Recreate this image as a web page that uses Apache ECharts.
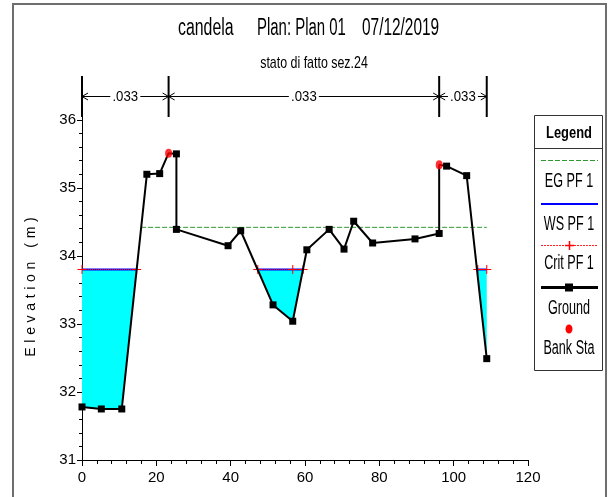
<!DOCTYPE html>
<html>
<head>
<meta charset="utf-8">
<script src="https://cdn.jsdelivr.net/npm/echarts@6/dist/echarts.min.js"></script>
<style>
  html, body { margin: 0; padding: 0; background: #fff; }
  #chart { width: 609px; height: 497px; }
</style>
</head>
<body>
<div id="chart"></div>
<script>
// ---- Cross section data (station in m, elevation in m) ----
const groundSta  = [0, 5.2, 10.7, 17.45, 20.9, 23.3, 25.4, 25.4, 39.3, 42.7, 51.4, 56.7, 60.5, 66.5, 70.5, 73.1, 78.2, 89.6, 96.1, 96.1, 98.1, 103.5, 108.9];
const groundElev = [31.78, 31.75, 31.75, 35.20, 35.21, 35.51, 35.50, 34.39, 34.15, 34.37, 33.28, 33.04, 34.09, 34.39, 34.10, 34.51, 34.19, 34.25, 34.33, 35.34, 35.32, 35.18, 32.49];

// Bank stations
const bankSta  = [23.3, 96.1];
const bankElev = [35.51, 35.34];

// Water levels for profile PF 1
const egElev = 34.42;
const egSta  = [15.9, 108.9];
const wsElev = 33.80;
const critElev = 33.80;
const critStaGroups = [[0, 14.7], [47.3, 56.7, 59.5], [106.5, 108.9]];

// Manning's n reaches
const nSta = [0, 23.3, 96.1, 108.9];
const nVal = ['.033', '.033', '.033'];

// Axis extents and tick labels
const xMin = 0, xMax = 120, xStep = 20;
const yMin = 31, yMax = 36.63;
const yMajorTicks = [31, 32, 33, 34, 35, 36];
const yMinorTicks = [];
for (let v = 31.2; v < 36; v += 0.2) {
  if (Math.abs(v - Math.round(v)) > 1e-6) yMinorTicks.push(+v.toFixed(1));
}

// Titles and legend entries
const titleParts = ['candela', 'Plan: Plan 01', '07/12/2019'];
const subTitle = 'stato di fatto sez.24';
const yName = 'Elevation (m)';
const legendTitle = 'Legend';
const legendNames = ['EG PF 1', 'WS PF 1', 'Crit PF 1', 'Ground', 'Bank Sta'];

const FONT = '"Liberation Sans", Arial, sans-serif';

// Letter-spaced axis name
const spacedName = yName.split('').map(c => c === ' ' ? '\u2004' : c).join('\u2004');

// Wetted pockets: parts of the ground below the water surface
function wetPockets(sta, elev, ws) {
  const pockets = [];
  let cur = null;
  for (let i = 0; i < sta.length; i++) {
    const below = elev[i] < ws;
    if (i === 0) {
      if (below) cur = [[sta[0], ws], [sta[0], elev[0]]];
      continue;
    }
    const wasBelow = elev[i - 1] < ws;
    if (below !== wasBelow) {
      const t = (ws - elev[i - 1]) / (elev[i] - elev[i - 1]);
      const xc = sta[i - 1] + t * (sta[i] - sta[i - 1]);
      if (below) {
        cur = [[xc, ws]];
      } else {
        cur.push([xc, ws]);
        pockets.push(cur);
        cur = null;
      }
    }
    if (below) cur.push([sta[i], elev[i]]);
  }
  if (cur) {
    cur.push([sta[sta.length - 1], ws]);
    pockets.push(cur);
  }
  return pockets;
}

const pockets = wetPockets(groundSta, groundElev, wsElev);

const groundData = groundSta.map((s, i) => [s, groundElev[i]]);
const isBankPoint = (v) => bankSta.some((b, k) => b === v[0] && bankElev[k] === v[1]);

const wsData = [];
pockets.forEach(p => {
  wsData.push([p[0][0], wsElev], [p[p.length - 1][0], wsElev], [p[p.length - 1][0], '-']);
});
const critData = [];
critStaGroups.forEach(g => {
  g.forEach(s => critData.push([s, critElev]));
  critData.push([g[g.length - 1], '-']);
});

const nSegments = [];
for (let i = 0; i < nSta.length - 1; i++) nSegments.push([nSta[i], nSta[i + 1]]);

const plusPath = 'path://M4,0H5V4H9V5H5V9H4V5H0V4H4Z';

const chart = echarts.init(document.getElementById('chart'));

const LEG_X0 = 541, LEG_X1 = 598, LEG_CX = 569;

function legText(txt, y) {
  return { type: 'text', x: LEG_CX, y: y, scaleX: 0.63, z: 11,
    style: { text: txt, font: '20px ' + FONT, fill: '#000', align: 'center', verticalAlign: 'middle' } };
}

chart.setOption({
  animation: false,
  backgroundColor: '#fff',
  grid: { left: 82, right: 81, top: 77, bottom: 37 },
  xAxis: {
    type: 'value', min: xMin, max: xMax, interval: xStep,
    axisLine: { lineStyle: { color: '#000', width: 1 } },
    axisTick: { length: 6, lineStyle: { color: '#000' } },
    minorTick: { show: true, splitNumber: 5, length: 4, lineStyle: { color: '#000' } },
    splitLine: { show: false },
    axisLabel: { color: '#000', fontFamily: FONT, fontSize: 15, margin: 10 }
  },
  yAxis: [
    {
      type: 'value', min: yMin, max: yMax,
      axisLine: { show: true, lineStyle: { color: '#000', width: 1 } },
      axisTick: { show: true, length: 5, customValues: yMajorTicks, lineStyle: { color: '#000' } },
      axisLabel: { color: '#000', fontFamily: FONT, fontSize: 15, margin: 6, customValues: yMajorTicks },
      splitLine: { show: false }
    },
    {
      type: 'value', min: yMin, max: yMax, position: 'left',
      axisLine: { show: false },
      axisTick: { show: true, length: 3, customValues: yMinorTicks, lineStyle: { color: '#000' } },
      axisLabel: { show: false },
      splitLine: { show: false }
    }
  ],
  series: [
    {
      // water below the surface
      type: 'custom', name: 'water', z: 1,
      data: pockets.map(p => [p[0][0], p[0][1]]),
      renderItem: function (params, api) {
        const pts = pockets[params.dataIndex].map(p => api.coord(p));
        return { type: 'polygon', shape: { points: pts }, style: { fill: '#00ffff', stroke: null } };
      },
      silent: true
    },
    {
      type: 'line', name: 'EG PF 1', z: 2,
      data: egSta.map(s => [s, egElev]),
      symbol: 'none',
      lineStyle: { color: '#2f9a2f', width: 1, type: [5, 2] },
      silent: true
    },
    {
      type: 'line', name: 'WS PF 1', z: 3,
      data: wsData, connectNulls: false,
      symbol: 'none',
      lineStyle: { color: '#0000ff', width: 2 },
      silent: true
    },
    {
      type: 'line', name: 'Crit PF 1', z: 4,
      data: critData, connectNulls: false,
      symbol: plusPath, symbolSize: 9, showAllSymbol: true,
      itemStyle: { color: '#ff0000' },
      lineStyle: { color: '#ff0000', width: 1, type: [1, 1] },
      silent: true
    },
    {
      type: 'line', name: 'Ground', z: 5,
      data: groundData,
      symbol: function (v) { return isBankPoint(v) ? 'none' : 'rect'; },
      symbolSize: 7, showAllSymbol: true,
      itemStyle: { color: '#000' },
      lineStyle: { color: '#000', width: 2 },
      silent: true
    },
    {
      type: 'scatter', name: 'Bank Sta', z: 6,
      data: bankSta.map((s, i) => [s, bankElev[i]]),
      symbol: 'circle', symbolSize: [7, 9],
      itemStyle: { color: '#ff0000' },
      silent: true
    },
    {
      // Manning's n reaches across the top of the section
      type: 'custom', name: 'n', z: 7, clip: false,
      data: nSegments,
      encode: { x: [0, 1] },
      renderItem: function (params, api) {
        const cs = params.coordSys;
        const xa = api.coord([api.value(0), yMax])[0];
        const xb = api.coord([api.value(1), yMax])[0];
        const top = cs.y - 1, bot = cs.y + 40, ay = cs.y + 19.5;
        const mid = (xa + xb) / 2, hw = 15;
        const st = { stroke: '#000', lineWidth: 1, fill: null };
        const kids = [
          { type: 'line', shape: { x1: xa, y1: top, x2: xa, y2: bot }, style: { stroke: '#000', lineWidth: 2 } },
          { type: 'line', shape: { x1: xa, y1: ay, x2: mid - hw, y2: ay }, style: st },
          { type: 'line', shape: { x1: mid + hw, y1: ay, x2: xb, y2: ay }, style: st },
          { type: 'polyline', shape: { points: [[xa + 6, ay - 3.5], [xa, ay], [xa + 6, ay + 3.5]] }, style: st },
          { type: 'polyline', shape: { points: [[xb - 6, ay - 3.5], [xb, ay], [xb - 6, ay + 3.5]] }, style: st },
          { type: 'text', x: mid, y: ay, scaleX: 0.88,
            style: { text: nVal[params.dataIndex], font: '15px ' + FONT, fill: '#000', align: 'center', verticalAlign: 'middle' } }
        ];
        if (params.dataIndex === nSegments.length - 1) {
          kids.push({ type: 'line', shape: { x1: xb, y1: top, x2: xb, y2: bot }, style: { stroke: '#000', lineWidth: 2 } });
        }
        return { type: 'group', children: kids };
      },
      silent: true
    }
  ],
  graphic: [
    // outer frame
    { type: 'rect', shape: { x: 13, y: 4, width: 593, height: 520 }, style: { fill: null, stroke: '#6e6e6e', lineWidth: 2 }, silent: true },
    // titles
    { type: 'text', x: 178, y: 29, scaleX: 0.69, style: { text: titleParts[0], font: '23px ' + FONT, fill: '#000', align: 'left', verticalAlign: 'middle' } },
    { type: 'text', x: 257, y: 29, scaleX: 0.65, style: { text: titleParts[1], font: '23px ' + FONT, fill: '#000', align: 'left', verticalAlign: 'middle' } },
    { type: 'text', x: 362, y: 29, scaleX: 0.67, style: { text: titleParts[2], font: '23px ' + FONT, fill: '#000', align: 'left', verticalAlign: 'middle' } },
    { type: 'text', x: 314, y: 63, scaleX: 0.73, style: { text: subTitle, font: '17px ' + FONT, fill: '#000', align: 'center', verticalAlign: 'middle' } },
    // y axis title
    { type: 'text', x: 31, y: 287, rotation: Math.PI / 2, style: { text: spacedName, font: '14px ' + FONT, fill: '#000', align: 'center', verticalAlign: 'middle' } },
    // legend box
    { type: 'rect', shape: { x: 534.5, y: 115.5, width: 68, height: 255 }, style: { fill: '#fff', stroke: '#333', lineWidth: 1 }, z: 10 },
    { type: 'line', shape: { x1: 534.5, y1: 148.5, x2: 602.5, y2: 148.5 }, style: { stroke: '#333', lineWidth: 1 }, z: 11 },
    { type: 'text', x: LEG_CX, y: 133, scaleX: 0.76, z: 11, style: { text: legendTitle, font: 'bold 17px ' + FONT, fill: '#000', align: 'center', verticalAlign: 'middle' } },
    { type: 'line', z: 11, shape: { x1: LEG_X0, y1: 160.5, x2: LEG_X1, y2: 160.5 }, style: { stroke: '#2f9a2f', lineWidth: 1, lineDash: [5, 2] } },
    legText(legendNames[0], 181),
    { type: 'line', z: 11, shape: { x1: LEG_X0, y1: 204, x2: LEG_X1, y2: 204 }, style: { stroke: '#0000ff', lineWidth: 2 } },
    legText(legendNames[1], 224),
    { type: 'line', z: 11, shape: { x1: LEG_X0, y1: 245.5, x2: LEG_X1, y2: 245.5 }, style: { stroke: '#ff2020', lineWidth: 1, lineDash: [2, 1] } },
    { type: 'polyline', z: 12, shape: { points: [[LEG_CX - 4, 245.5], [LEG_CX + 5, 245.5]] }, style: { stroke: '#ff0000', lineWidth: 1.5, fill: null } },
    { type: 'polyline', z: 12, shape: { points: [[LEG_CX + 0.5, 241], [LEG_CX + 0.5, 250]] }, style: { stroke: '#ff0000', lineWidth: 1.5, fill: null } },
    legText(legendNames[2], 263),
    { type: 'line', z: 11, shape: { x1: LEG_X0, y1: 287.5, x2: LEG_X1, y2: 287.5 }, style: { stroke: '#000', lineWidth: 3 } },
    { type: 'rect', z: 12, shape: { x: LEG_CX - 4, y: 283.5, width: 8, height: 8 }, style: { fill: '#000' } },
    legText(legendNames[3], 308),
    { type: 'ellipse', z: 12, shape: { cx: LEG_CX, cy: 329, rx: 3.5, ry: 4.5 }, style: { fill: '#ff0000' } },
    legText(legendNames[4], 348.5)
  ]
});
</script>
</body>
</html>
